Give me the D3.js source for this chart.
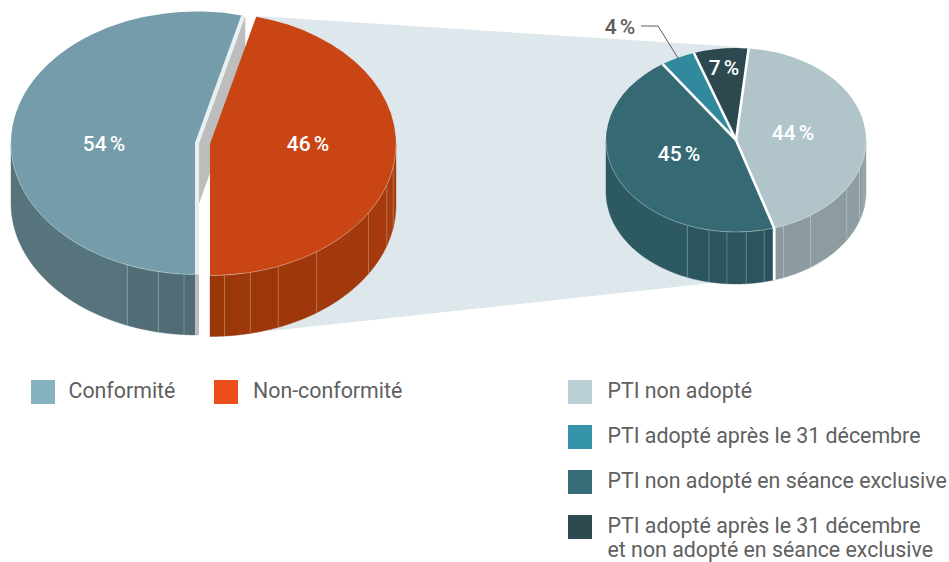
<!DOCTYPE html>
<html lang="fr">
<head>
<meta charset="utf-8">
<title>Conformité PTI</title>
<script src="https://cdn.jsdelivr.net/npm/d3@7"></script>
<style>
  html, body { margin: 0; background: #fff; }
  svg { display: block; }
  text { font-family: Roboto, sans-serif; }
  .legend { font-size: 21.35px; fill: #606060; }
  .label { font-size: 21px; font-weight: 500; fill: #fff; text-anchor: middle; word-spacing: -2px; }
</style>
</head>
<body>
<script>
// DATA

const mainNames = ["Conformité", "Non-conformité"];
const mainValues = [54, 46];
const mainLabels = ["54 %", "46 %"];

// clockwise order of the second pie
const ptiNames = [
  ["PTI non adopté"],
  ["PTI non adopté en séance exclusive"],
  ["PTI adopté après le 31 décembre"],
  ["PTI adopté après le 31 décembre", "et non adopté en séance exclusive"]
];
const ptiValues = [43.7, 45.2, 4.3, 6.8];
const ptiLabels = ["44 %", "45 %", "4 %", "7 %"];
// the legend lists the slices in another order
const ptiLegendOrder = [0, 2, 1, 3];

// angles (degrees, clockwise from the top) of the thin lines on the pie walls
const facetDegrees = [100, 108, 121.5, 145, 158.5, 167.5, 175.5, 184, 192, 202];

// COLOURS

const mainTop = ["#749caa", "#c94614"];
const mainWall = [["#5c7a83", "#4f6b74"], ["#9a3608", "#a83c0f"]];
const mainSwatch = ["#85b3c0", "#eb4e1b"];

const ptiTop = ["#b1c4ca", "#356a75", "#30899c", "#2c494f"];
const ptiWall = [["#8a9a9f", "#8f9fa4"], ["#2e5c66", "#2a535d"], ["#2a535d", "#2a535d"], ["#2a535d", "#2a535d"]];
const ptiSwatch = ["#bbd0d6", "#366d79", "#3594a9", "#2d4a51"];

// SETUP

const w = 949, h = 562;
const rad = (deg) => deg * Math.PI / 180;

const svg = d3
  .select("body")
  .append("svg")
  .attr("width", w)
  .attr("height", h)
  .attr("viewBox", `0 0 ${w} ${h}`);

// point on the rim of a squashed pie, angle measured like d3.pie does
const rim = (p, a, drop = 0) => [
  p.cx + p.rx * Math.sin(a),
  p.cy - p.ry * Math.cos(a) + drop
];

// wall of a pie between two angles, as a closed outline
function wallPath(p, a0, a1) {
  const steps = d3.range(0, 25).map((i) => a0 + (a1 - a0) * i / 24);
  const pts = steps.map((a) => rim(p, a))
    .concat(steps.slice().reverse().map((a) => rim(p, a, p.depth)));
  return d3.line()(pts) + "Z";
}

// draws the visible wall of one slice, cut in facets with a shade per facet
function drawWall(p, slice, shades) {
  const from = Math.max(slice.startAngle, rad(90));
  const to = Math.min(slice.endAngle, rad(270));
  if (from >= to) return;

  const shade = d3.scaleLinear()
    .domain([from, to])
    .range(slice.startAngle < Math.PI ? [shades[1], shades[0]] : [shades[0], shades[1]])
    .interpolate(d3.interpolateRgb);

  const inner = facetDegrees.map(rad).filter((a) => a > from && a < to);
  const stops = [from, ...inner, to];

  d3.pairs(stops).forEach(([a, b]) => {
    svg.append("path")
      .attr("d", wallPath(p, a, b))
      .attr("fill", shade((a + b) / 2))
      .attr("stroke", shade((a + b) / 2))
      .attr("stroke-width", 0.4);
  });

  // thin pale lines between the facets
  inner.forEach((a) => {
    svg.append("line")
      .attr("x1", rim(p, a)[0]).attr("y1", rim(p, a)[1])
      .attr("x2", rim(p, a)[0]).attr("y2", rim(p, a, p.depth)[1])
      .attr("stroke", "#fff")
      .attr("stroke-opacity", 0.3)
      .attr("stroke-width", 0.8);
  });
}

function drawTop(p, slice, color) {
  const arc = d3.arc().innerRadius(0).outerRadius(p.rx);
  svg.append("path")
    .attr("transform", `translate(${p.cx},${p.cy}) scale(1,${p.ry / p.rx})`)
    .attr("d", arc(slice))
    .attr("fill", color);
}

// pale line on the front rim, between the top and the wall
function drawRimLine(p, slices) {
  slices.forEach((s) => {
    const from = Math.max(s.startAngle, rad(90));
    const to = Math.min(s.endAngle, rad(270));
    if (from >= to) return;
    const pts = d3.range(0, 41).map((i) => rim(p, from + (to - from) * i / 40));
    svg.append("path")
      .attr("d", d3.line()(pts))
      .attr("fill", "none")
      .attr("stroke", "#fff")
      .attr("stroke-opacity", 0.4)
      .attr("stroke-width", 0.7);
  });
}

// LINK BETWEEN THE TWO PIES

svg.append("polygon")
  .attr("points", "256,16 740,47 740,280 270,331")
  .attr("fill", "#dee7ec");

// MAIN PIE

// smallest value first, so that 46 % runs from the cut down to the bottom
const [blue, red] = d3.pie()
  .sort((a, b) => a - b)
  .startAngle(rad(14.4))
  .endAngle(rad(374.4))(mainValues);

const bluePie = { cx: 197, cy: 143, rx: 186, ry: 131.5, depth: 60.5 };
const redPie = { cx: 210, cy: 144, rx: 186, ry: 131.5, depth: 61 };

// grey cut face behind the red slice
const cutTop = rim(bluePie, blue.endAngle);
svg.append("polygon")
  .attr("points", [
    [bluePie.cx + 2, bluePie.cy],
    [cutTop[0] + 2, cutTop[1]],
    [cutTop[0] + 2, cutTop[1] + bluePie.depth],
    [bluePie.cx + 2, bluePie.cy + bluePie.depth]
  ].join(" "))
  .attr("fill", "#bdbdbd");

drawWall(bluePie, blue, mainWall[0]);
drawTop(bluePie, blue, mainTop[0]);
drawRimLine(bluePie, [blue]);

// pale band on both cut edges of the blue slice
const blueBottom = rim(bluePie, blue.startAngle);
svg.append("polyline")
  .attr("points", [cutTop, [bluePie.cx, bluePie.cy], blueBottom].join(" "))
  .attr("fill", "none")
  .attr("stroke", "#e9eff1")
  .attr("stroke-width", 4);

svg.append("line")
  .attr("x1", bluePie.cx).attr("y1", blueBottom[1])
  .attr("x2", bluePie.cx).attr("y2", blueBottom[1] + bluePie.depth)
  .attr("stroke", "#bdbdbd")
  .attr("stroke-width", 4);

drawWall(redPie, red, mainWall[1]);
drawTop(redPie, red, mainTop[1]);
drawRimLine(redPie, [red]);

// SECOND PIE

const ptiP = { cx: 736, cy: 140, rx: 130, ry: 92, depth: 52 };

const ptiSlices = d3.pie()
  .sort(null)
  .startAngle(rad(5.6))
  .endAngle(rad(365.6))(ptiValues);

ptiSlices.forEach((s, i) => drawWall(ptiP, s, ptiWall[i]));
ptiSlices.forEach((s, i) => drawTop(ptiP, s, ptiTop[i]));
drawRimLine(ptiP, ptiSlices);

// white separators on the top face
ptiSlices.forEach((s) => {
  const e = rim(ptiP, s.startAngle);
  svg.append("line")
    .attr("x1", ptiP.cx).attr("y1", ptiP.cy)
    .attr("x2", e[0]).attr("y2", e[1])
    .attr("stroke", "#fff")
    .attr("stroke-width", 2.6);
});

// and down the wall, where a separator reaches the front
const front = rim(ptiP, ptiSlices[1].startAngle);
svg.append("line")
  .attr("x1", front[0]).attr("y1", front[1])
  .attr("x2", front[0]).attr("y2", front[1] + ptiP.depth)
  .attr("stroke", "#fff")
  .attr("stroke-width", 2.8);

// VALUE LABELS

const mainLabelSpots = [[104, 151], [308, 151]];
mainLabels.forEach((t, i) => {
  svg.append("text")
    .attr("class", "label")
    .attr("x", mainLabelSpots[i][0])
    .attr("y", mainLabelSpots[i][1])
    .text(t);
});

const ptiLabelSpots = [[793, 139.5], [679, 160.5], [620, 34], [724, 75]];
ptiLabels.forEach((t, i) => {
  svg.append("text")
    .attr("class", "label")
    .attr("x", ptiLabelSpots[i][0])
    .attr("y", ptiLabelSpots[i][1])
    .style("fill", t === "4 %" ? "#5c5c5c" : null)
    .text(t);
});

// leader of the 4 % label
svg.append("polyline")
  .attr("points", "641,26 658,26 678,58")
  .attr("fill", "none")
  .attr("stroke", "#5c5c5c")
  .attr("stroke-width", 1);

// LEGENDS

function swatch(x, y, color) {
  svg.append("rect")
    .attr("x", x).attr("y", y)
    .attr("width", 24).attr("height", 24)
    .attr("fill", color);
}

const mainLegendX = [31, 214];
mainNames.forEach((name, i) => {
  swatch(mainLegendX[i], 380, mainSwatch[i]);
  svg.append("text")
    .attr("class", "legend")
    .attr("x", mainLegendX[i] + (i ? 39 : 37.5))
    .attr("y", 398)
    .text(name);
});

ptiLegendOrder.forEach((k, row) => {
  const y = 380 + row * 45;
  swatch(568, y, ptiSwatch[k]);
  ptiNames[k].forEach((line, j) => {
    svg.append("text")
      .attr("class", "legend")
      .attr("x", 607.5)
      .attr("y", y + 18 + j * 24)
      .text(line);
  });
});
</script>
</body>
</html>
